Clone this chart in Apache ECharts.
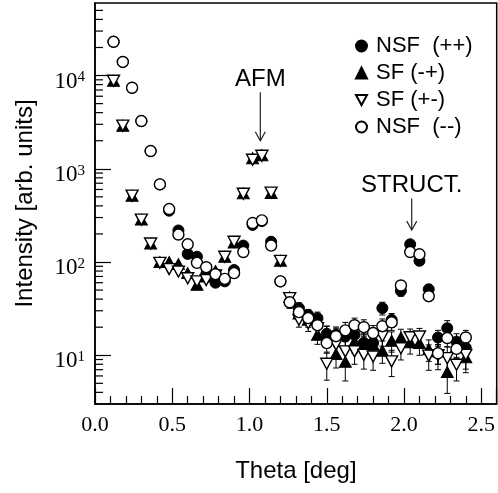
<!DOCTYPE html>
<html>
<head>
<meta charset="utf-8">
<script src="https://cdn.jsdelivr.net/npm/echarts@6/dist/echarts.min.js"></script>
<style>
  html, body { margin: 0; padding: 0; background: #fff; }
  #chart { width: 498px; height: 493px; }
</style>
</head>
<body>
<div id="chart"></div>
<script>
// scan positions (deg)
var theta = [0.12, 0.18, 0.24, 0.30, 0.36, 0.42, 0.48, 0.54, 0.60, 0.66,
             0.72, 0.78, 0.84, 0.90, 0.96, 1.02, 1.08, 1.14, 1.20, 1.26,
             1.32, 1.38, 1.44, 1.50, 1.56, 1.62, 1.68, 1.74, 1.80, 1.86,
             1.92, 1.98, 2.04, 2.10, 2.16, 2.22, 2.28, 2.34, 2.40];

// NSF (++)  filled circles
var nsfPP = [23000, 14000, 7400, 3250, 1550, 680, 355, 218, 122, 114,
             74, 60, 62, 82, 150, 250, 275, 165, 62, 37,
             32, 27, 25, 17, 16.6, 15.9, 16.6, 13.6, 13.6, 32,
             24, 49, 155, 103, 51, 15.5, 19.5, 14, 12];
// SF (-+)  filled triangles
var sfMP = [8800, 2900, 515, 285, 158, 100, 100, 95, 76, 57,
            70, 80, 114, 162, 545, 1300, 1400, 550, 103, 42,
            28, 24, 16.6, 17, 10.3, 8.5, 14, 13.5, 13, 11.2,
            14.3, 15.5, 13.8, 13.5, 11.6, 11, 6.6, 12.5, 9.5];
// SF (+-)  open triangles
var sfPM = [8800, 2900, 515, 285, 158, 98, 84, 79, 67, 62,
            64, 72, 114, 165, 540, 1250, 1380, 555, 103, 41,
            24, 22, 19.5, 8.1, 13, 11, 11, 10.1, 9.7, 16,
            8.6, 11.9, 15.6, 15.9, 9.9, 10, 9.3, 7.9, 10.1];
// NSF (--)  open circles
var nsfMM = [23000, 14000, 7400, 3250, 1550, 680, 370, 197, 155, 98,
             88, 74, 66, 76, 128, 262, 280, 150, 62, 37,
             29, 25, 21, 13.5, 16, 18.5, 21, 20, 17.3, 20.5,
             22.5, 56, 128, 121, 43, 10.5, 15.3, 11.7, 15.5];

// error bars (absolute, +/-)
var errPP = [0, 0, 0, 0, 0, 0, 0, 0, 0, 0, 0, 0, 0, 0, 0, 0, 0, 0, 6, 5,
             4.5, 4, 4, 3.5, 3.5, 3.5, 3.5, 3, 3, 5, 4, 6, 10, 8, 6, 3, 4, 3, 3];
var errMP = [0, 0, 0, 0, 0, 0, 0, 0, 0, 0, 0, 0, 0, 0, 0, 0, 0, 0, 7, 5,
             4, 4, 3.5, 3.5, 3, 3.2, 3.5, 3.5, 3.5, 3, 3.5, 3.5, 3.5, 3.5, 3, 3, 2.7, 3, 3];
var errPM = [0, 0, 0, 0, 0, 0, 0, 0, 0, 0, 0, 0, 0, 0, 0, 0, 0, 0, 7, 5,
             4, 4, 3.5, 2.7, 3, 3, 3, 3, 2.8, 3.5, 2.7, 3, 3.5, 3.5, 3, 3, 3, 2.6, 3];
var errMM = [0, 0, 0, 0, 0, 0, 0, 0, 0, 0, 0, 0, 0, 0, 0, 0, 0, 0, 6, 5,
             4.5, 4, 4, 3, 3.5, 4, 4, 4, 3.5, 4, 4, 6, 9, 9, 5, 2.5, 3, 2.5, 3];

var seriesNames = ['NSF  (++)', 'SF (-+)', 'SF (+-)', 'NSF  (--)'];

// annotations
var annoText = ['AFM', 'STRUCT.'];
var annoTheta = [1.07, 2.05];
var annoFrom = [6600, 480];
var annoTo = [2000, 220];

var xTicks = [0.0, 0.5, 1.0, 1.5, 2.0, 2.5];

var myChart = echarts.init(document.getElementById('chart'));

function pairs(vals) {
  return theta.map(function (t, i) { return [t, vals[i]]; });
}

function errorBars(vals, errs) {
  var data = [];
  for (var i = 0; i < theta.length; i++) {
    if (errs[i] > 0) data.push([theta[i], vals[i] - errs[i], vals[i] + errs[i]]);
  }
  return {
    type: 'custom',
    silent: true,
    z: 1,
    encode: { x: 0, y: [1, 2] },
    data: data,
    renderItem: function (params, api) {
      var lo = api.coord([api.value(0), api.value(1)]);
      var hi = api.coord([api.value(0), api.value(2)]);
      var w = 3;
      var st = { stroke: '#000', lineWidth: 1 };
      return {
        type: 'group',
        children: [
          { type: 'line', shape: { x1: lo[0], y1: lo[1], x2: hi[0], y2: hi[1] }, style: st },
          { type: 'line', shape: { x1: lo[0] - w, y1: lo[1], x2: lo[0] + w, y2: lo[1] }, style: st },
          { type: 'line', shape: { x1: hi[0] - w, y1: hi[1], x2: hi[0] + w, y2: hi[1] }, style: st }
        ]
      };
    }
  };
}

// minor ticks of the log axis (2..9 per decade)
var yMinor = [];
for (var k = 0; k <= 4; k++) {
  for (var m = 2; m <= 9; m++) {
    var v = m * Math.pow(10, k);
    if (v > 3 && v < 60000) yMinor.push([0, v]);
  }
}

var sansFont = 'Liberation Sans';
var serifFont = 'Liberation Serif';

var option = {
  backgroundColor: '#fff',
  animation: false,
  grid: { left: 95, right: 1, top: 3, bottom: 89, show: true, borderColor: '#000', borderWidth: 1.5 },
  legend: {
    data: [
      { name: seriesNames[0] },
      { name: seriesNames[1] },
      { name: seriesNames[2], icon: 'path://M0,0L12,0L6,11Z' },
      { name: seriesNames[3] }
    ],
    orient: 'vertical',
    left: 350,
    top: 30,
    itemWidth: 11,
    itemHeight: 11,
    itemGap: 5,
    selectedMode: false,
    textStyle: { fontFamily: sansFont, fontSize: 22, color: '#000', padding: [0, 0, 0, 4] }
  },
  xAxis: {
    type: 'value',
    min: 0,
    max: 2.6,
    interval: 0.5,
    name: 'Theta [deg]',
    nameLocation: 'middle',
    nameGap: 55,
    nameTextStyle: { fontFamily: sansFont, fontSize: 24, color: '#000' },
    axisLine: { lineStyle: { color: '#000', width: 1.5 } },
    axisTick: { inside: true, length: 16, lineStyle: { color: '#000', width: 1.2 } },
    minorTick: { show: true, splitNumber: 5, length: 8, lineStyle: { color: '#000', width: 1.2 } },
    splitLine: { show: false },
    axisLabel: {
      showMaxLabel: false,
      margin: 10,
      fontFamily: serifFont,
      fontSize: 22,
      color: '#000',
      formatter: function (v) { return xTicks.indexOf(v) >= 0 ? v.toFixed(1) : ''; }
    }
  },
  yAxis: {
    type: 'log',
    logBase: 10,
    min: 3,
    max: 60000,
    name: 'Intensity [arb. units]',
    nameLocation: 'middle',
    nameGap: 58,
    nameTextStyle: { fontFamily: sansFont, fontSize: 24, color: '#000' },
    axisLine: { show: true, lineStyle: { color: '#000', width: 1.5 } },
    axisTick: { inside: true, length: 16, lineStyle: { color: '#000', width: 1.2 } },
    splitLine: { show: false },
    axisLabel: {
      showMinLabel: false,
      showMaxLabel: false,
      margin: 10,
      padding: [12, 0, 0, 0],
      formatter: function (v) {
        var e = Math.log10(v);
        var r = Math.round(e);
        if (Math.abs(e - r) > 1e-6) return '';
        return '{b|10}{s|' + r + '}';
      },
      rich: {
        b: { fontFamily: serifFont, fontSize: 23, lineHeight: 23, color: '#000', verticalAlign: 'bottom' },
        s: { fontFamily: serifFont, fontSize: 15, lineHeight: 15, color: '#000', verticalAlign: 'top', padding: [0, 0, 12, 0] }
      }
    }
  },
  series: [
    {
      type: 'custom',
      silent: true,
      clip: false,
      z: 5,
      encode: { x: 0, y: 1 },
      data: yMinor,
      renderItem: function (params, api) {
        var p = api.coord([api.value(0), api.value(1)]);
        return { type: 'line', shape: { x1: p[0], y1: p[1], x2: p[0] + 8, y2: p[1] }, style: { stroke: '#000', lineWidth: 1.2 } };
      }
    },
    errorBars(nsfPP, errPP),
    errorBars(sfMP, errMP),
    errorBars(sfPM, errPM),
    errorBars(nsfMM, errMM),
    {
      name: seriesNames[0], type: 'scatter', z: 2, data: pairs(nsfPP),
      symbol: 'circle', symbolSize: 11,
      itemStyle: { color: '#000', borderColor: '#000', borderWidth: 1, opacity: 1 },
      emphasis: { disabled: true }
    },
    {
      name: seriesNames[1], type: 'scatter', z: 2, data: pairs(sfMP),
      symbol: 'triangle', symbolSize: [12, 11],
      itemStyle: { color: '#000', borderColor: '#000', borderWidth: 1, opacity: 1 },
      emphasis: { disabled: true }
    },
    {
      name: seriesNames[2], type: 'scatter', z: 2, data: pairs(sfPM),
      symbol: 'triangle', symbolRotate: 180, symbolSize: [12, 11],
      itemStyle: { color: '#fff', borderColor: '#000', borderWidth: 1.4, opacity: 1 },
      emphasis: { disabled: true }
    },
    {
      name: seriesNames[3], type: 'scatter', z: 2, data: pairs(nsfMM),
      symbol: 'circle', symbolSize: 11,
      itemStyle: { color: '#fff', borderColor: '#000', borderWidth: 1.4, opacity: 1 },
      emphasis: { disabled: true }
    },
    {
      type: 'custom',
      silent: true,
      clip: false,
      z: 4,
      encode: { x: 0, y: [1, 2] },
      data: annoText.map(function (t, i) { return [annoTheta[i], annoFrom[i], annoTo[i]]; }),
      renderItem: function (params, api) {
        var top = api.coord([api.value(0), api.value(1)]);
        var tip = api.coord([api.value(0), api.value(2)]);
        var st = { stroke: '#222', lineWidth: 1.2 };
        return {
          type: 'group',
          children: [
            { type: 'line', shape: { x1: top[0], y1: top[1], x2: tip[0], y2: tip[1] }, style: st },
            { type: 'polyline', shape: { points: [[tip[0] - 5, tip[1] - 9], [tip[0], tip[1]], [tip[0] + 5, tip[1] - 9]] }, style: { stroke: '#222', lineWidth: 1.2, fill: null } },
            { type: 'text', x: top[0], y: top[1] - 1, style: { text: annoText[params.dataIndex], fontFamily: sansFont, fontSize: 24, fill: '#000', align: 'center', verticalAlign: 'bottom' } }
          ]
        };
      }
    }
  ]
};

myChart.setOption(option);
</script>
</body>
</html>
